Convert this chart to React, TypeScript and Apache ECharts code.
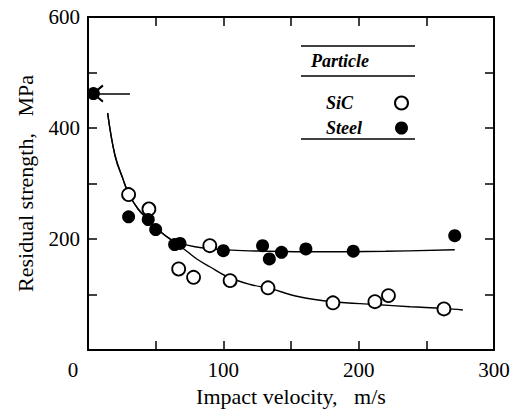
import React, { useEffect, useRef } from "react";
import * as echarts from "echarts";

const sicX = [30, 45, 67, 78, 90, 105, 133, 181, 212, 222, 263];
const sicY = [280, 254, 146, 131, 188, 125, 112, 85, 87, 98, 74];

const steelX = [4, 30, 44.5, 50, 64, 68, 100, 129, 134, 143, 161, 196, 271];
const steelY = [462, 240, 235, 217, 190, 192, 179, 188, 164, 176, 182, 178, 206];

// Fitted curves
const steelFitX = [14.5, 20, 26, 30, 37, 44.5, 54, 64, 79, 106, 133, 171, 220, 271];
const steelFitY = [427, 350, 307, 282, 254, 235, 212, 196, 186, 180, 178, 177, 178, 180.5];

const sicFitX = [14.5, 20, 26, 30, 37, 44.5, 54, 64, 73, 81, 90, 103, 120, 134, 156, 181, 212, 238, 263, 277];
const sicFitY = [427, 350, 307, 282, 254, 235, 212, 194, 178, 163, 150, 132, 118, 111, 96, 87, 82, 78, 75, 72];

// Arrow pointing to the unimpacted strength
const arrowFrom = [31, 462];
const arrowTo = [7, 462];

const xTicks = [0, 100, 200, 300];
const yTicks = [0, 200, 400, 600];

const legendNames = ["SiC", "Steel"];
const legendHeader = "Particle";

const FONT = "Liberation Serif, Times New Roman, serif";

const pairs = (xs: number[], ys: number[]) => xs.map((x, i) => [x, ys[i]]);

export default function App() {
  const ref = useRef<HTMLDivElement>(null);
  useEffect(() => {
    if (!ref.current) return;
    const chart = echarts.init(ref.current, null, { renderer: "svg" });
    const axisCommon = {
      type: "value" as const,
      axisLine: { show: true, onZero: false, lineStyle: { color: "#000", width: 2 } },
      axisTick: { show: true, inside: true, length: 9, lineStyle: { color: "#000", width: 1.5 } },
      splitLine: { show: false },
    };
    const legendText = {
      fontFamily: FONT,
      fontSize: 18,
      fontStyle: "italic",
      fontWeight: "bold",
      color: "#000",
    };
    chart.setOption({
      animation: false,
      backgroundColor: "#fff",
      grid: { left: 88, right: 24, top: 17, bottom: 66, containLabel: false },
      xAxis: [
        {
          ...axisCommon,
          position: "bottom",
          min: 0,
          max: 300,
          interval: 50,
          name: "Impact velocity,   m/s",
          nameLocation: "middle",
          nameGap: 35,
          nameTextStyle: { fontFamily: FONT, fontSize: 22, color: "#000" },
          axisLabel: {
            interval: 1,
            margin: 9,
            fontFamily: FONT,
            fontSize: 21,
            color: "#000",
            formatter: (v: number) => (v === 0 ? "{z|0}" : xTicks.includes(v) ? String(v) : ""),
            rich: { z: { fontFamily: FONT, fontSize: 21, color: "#000", padding: [0, 30, 0, 0] } },
          },
        },
        {
          ...axisCommon,
          position: "top",
          min: 0,
          max: 300,
          interval: 50,
          axisLabel: { show: false },
        },
      ],
      yAxis: [
        {
          ...axisCommon,
          position: "left",
          min: 0,
          max: 600,
          interval: 100,
          name: "Residual strength,   MPa",
          nameLocation: "middle",
          nameGap: 52,
          nameRotate: 90,
          nameTextStyle: { fontFamily: FONT, fontSize: 22, color: "#000" },
          axisLabel: {
            interval: 1,
            margin: 8,
            fontFamily: FONT,
            fontSize: 21,
            color: "#000",
            formatter: (v: number) => (v !== 0 && yTicks.includes(v) ? String(v) : ""),
          },
        },
        {
          ...axisCommon,
          position: "right",
          min: 0,
          max: 600,
          interval: 100,
          axisLabel: { show: false },
        },
      ],
      legend: {
        show: true,
        data: legendNames,
        orient: "vertical",
        left: 321,
        top: 89,
        align: "right",
        itemWidth: 13,
        itemHeight: 13,
        itemGap: 7,
        formatter: (name: string) => `{a|${name}}`,
        textStyle: {
          ...legendText,
          lineHeight: 18,
          rich: { a: { ...legendText, width: 64, align: "left", lineHeight: 18 } },
        },
      },
      graphic: [
        { type: "line", shape: { x1: 301, y1: 46, x2: 415, y2: 46 }, style: { stroke: "#000", lineWidth: 1.5 } },
        { type: "line", shape: { x1: 301, y1: 76, x2: 415, y2: 76 }, style: { stroke: "#000", lineWidth: 1.5 } },
        { type: "line", shape: { x1: 301, y1: 139, x2: 415, y2: 139 }, style: { stroke: "#000", lineWidth: 1.5 } },
        {
          type: "text",
          left: 311,
          top: 52,
          style: {
            text: legendHeader,
            fontFamily: FONT,
            fontSize: 18,
            fontStyle: "italic",
            fontWeight: "bold",
            fill: "#000",
          },
        },
      ],
      series: [
        {
          type: "line",
          data: pairs(steelFitX, steelFitY),
          smooth: 0.4,
          showSymbol: false,
          symbol: "none",
          lineStyle: { color: "#000", width: 1.4 },
          silent: true,
          z: 1,
          markLine: {
            silent: true,
            symbol: ["none", "path://M0,10 L5,0 L10,10 L9,11 L5,3 L1,11 Z"],
            symbolSize: [18, 12],
            label: { show: false },
            lineStyle: { color: "#000", width: 1.6, type: "solid" },
            data: [[{ coord: arrowFrom }, { coord: arrowTo }]],
          },
        },
        {
          type: "line",
          data: pairs(sicFitX, sicFitY),
          smooth: 0.4,
          showSymbol: false,
          symbol: "none",
          lineStyle: { color: "#000", width: 1.4 },
          silent: true,
          z: 1,
        },
        {
          name: "SiC",
          type: "scatter",
          data: pairs(sicX, sicY),
          symbol: "circle",
          symbolSize: 13,
          itemStyle: { color: "#fff", borderColor: "#000", borderWidth: 1.8, opacity: 1 },
          z: 3,
        },
        {
          name: "Steel",
          type: "scatter",
          data: pairs(steelX, steelY),
          symbol: "circle",
          symbolSize: 13,
          itemStyle: { color: "#000", borderColor: "#000", borderWidth: 0, opacity: 1 },
          clip: false,
          z: 4,
        },
      ],
    });
    return () => chart.dispose();
  }, []);
  return (
    <div
      ref={ref}
      style={{ position: "absolute", left: 0, top: 0, width: 518, height: 416 }}
    />
  );
}
